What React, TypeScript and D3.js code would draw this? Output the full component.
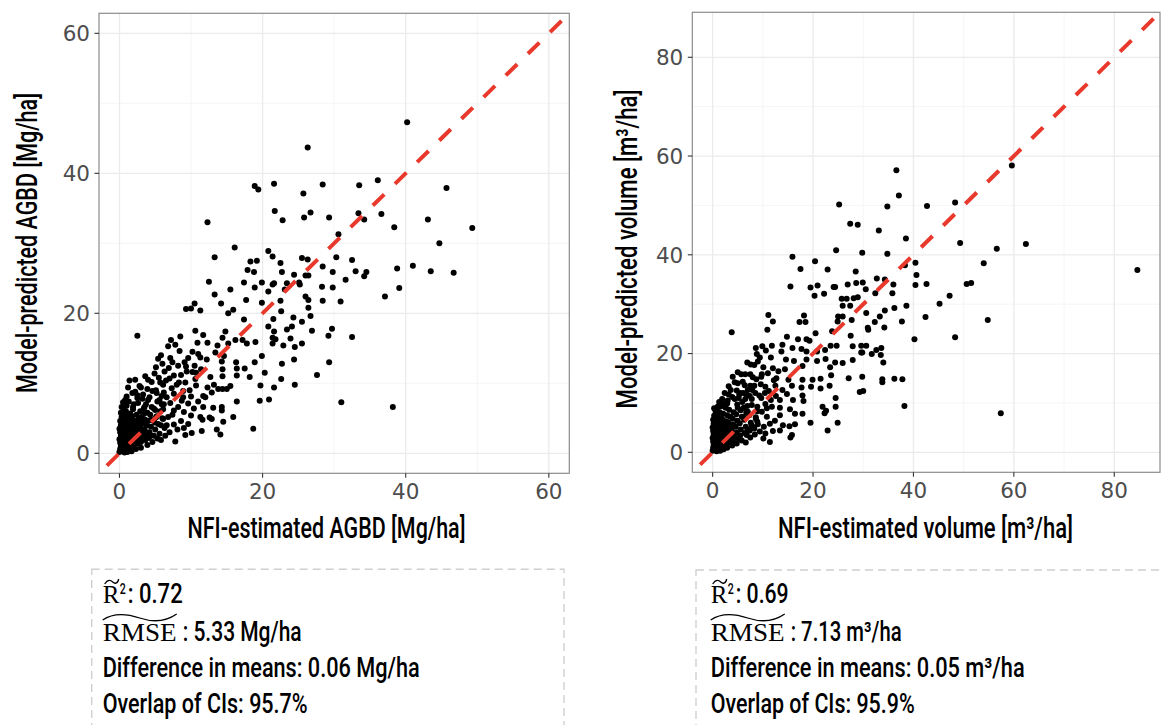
import React, { useLayoutEffect, useRef, useState } from "react";
import * as d3 from "d3";

// ---------- DATA ----------
// Left panel: NFI-estimated AGBD (x) vs model-predicted AGBD (y), Mg/ha
const agbdPoints: [number, number][] = [
  [40.2,47.3],[26.3,43.7],[36.1,39.0],[18.9,38.2],[19.4,37.7],[21.6,38.5],[28.4,38.4],[33.5,38.3],[45.7,37.9],[25.7,37.1],
  [21.7,34.6],[26.7,34.4],[33.4,34.3],[36.6,34.2],[25.8,33.7],[29.3,33.7],[22.8,33.3],[34.2,33.4],[43.1,33.4],[12.3,33.0],
  [49.3,32.2],[38.4,32.3],[30.6,31.3],[44.7,30.0],[16.1,29.4],[20.8,28.9],[13.3,28.0],[21.4,28.1],[25.5,27.9],[30.3,28.0],
  [32.5,27.6],[26.3,27.7],[18.3,27.4],[19.2,27.5],[22.5,27.2],[28.4,26.7],[41.0,26.8],[38.8,26.4],[17.9,26.2],[18.8,25.9],
  [22.7,25.9],[29.8,25.9],[33.0,26.0],[34.5,25.9],[43.5,26.0],[46.7,25.8],[24.4,25.5],[26.0,25.4],[26.4,25.4],[34.2,25.3],
  [31.6,24.8],[12.5,24.5],[17.4,24.4],[19.9,24.4],[21.6,24.3],[21.4,24.1],[23.4,24.3],[25.1,24.4],[25.2,24.1],[28.3,23.8],
  [29.8,23.7],[15.5,23.4],[18.9,23.7],[23.1,23.4],[39.1,23.6],[20.8,23.1],[13.3,22.7],[37.1,22.4],[26.0,22.4],[26.4,21.9],
  [17.7,21.9],[22.5,21.8],[28.4,21.8],[30.9,21.7],[14.2,21.4],[19.9,21.5],[10.5,21.4],[9.3,20.6],[10.0,20.7],[11.3,20.4],
  [15.9,20.5],[15.2,20.0],[26.4,20.8],[22.6,20.3],[26.7,19.6],[21.5,19.2],[24.3,19.4],[17.4,19.1],[25.5,18.8],[20.8,18.1],
  [21.6,17.4],[23.4,17.7],[24.1,18.1],[29.7,17.8],[26.9,17.5],[10.6,17.5],[14.8,17.4],[11.7,16.9],[2.5,16.8],[29.2,16.8],
  [32.5,16.6],[21.4,16.5],[21.8,16.3],[23.9,16.4],[14.4,16.5],[8.5,16.7],[16.2,16.2],[17.2,16.2],[19.0,15.9],[21.4,15.7],
  [17.8,15.7],[22.9,15.4],[24.5,15.2],[25.5,15.7],[7.2,16.2],[7.8,15.5],[10.9,15.8],[12.3,15.8],[13.7,15.4],[15.2,15.7],
  [6.8,15.3],[10.2,14.5],[5.8,14.0],[5.4,13.5],[7.1,13.6],[9.6,13.6],[11.3,13.7],[13.4,14.4],[14.6,13.9],[19.9,13.9],
  [24.4,13.4],[29.3,13.0],[14.3,13.1],[16.3,13.0],[18.9,13.0],[22.7,12.8],[5.1,12.3],[8.2,12.5],[9.3,12.4],[10.5,12.5],
  [14.4,12.0],[16.4,12.1],[17.5,12.1],[6.3,11.7],[7.6,11.1],[9.4,11.7],[10.7,11.5],[12.7,10.9],[14.4,11.0],[16.4,11.1],
  [18.2,10.9],[20.3,11.5],[27.6,11.2],[1.4,10.4],[2.2,10.5],[4.0,10.5],[5.7,10.1],[7.0,10.7],[8.3,10.1],[9.2,10.1],
  [10.7,9.7],[12.3,9.4],[13.8,9.2],[15.5,9.6],[19.7,9.7],[21.6,9.4],[22.6,10.6],[24.5,9.8],[3.0,9.4],[4.6,8.9],
  [6.2,8.7],[7.6,8.5],[8.9,8.9],[10.0,8.1],[11.7,8.2],[12.9,8.7],[14.4,9.2],[15.0,9.2],[19.6,7.5],[20.9,7.7],
  [31.0,7.3],[38.2,6.6],[1.0,8.1],[2.5,7.9],[4.0,7.6],[5.6,7.6],[7.1,7.2],[8.7,7.5],[9.6,7.1],[11.7,6.6],
  [13.1,6.5],[14.3,6.6],[16.4,7.4],[1.9,6.6],[3.5,6.6],[4.8,6.4],[6.1,6.3],[7.6,6.1],[9.0,5.9],[10.0,5.4],
  [11.3,5.2],[12.6,5.1],[14.3,6.1],[15.9,5.2],[14.5,4.5],[13.6,3.4],[14.1,2.7],[18.7,3.5],[7.8,1.7],[9.2,2.6],
  [10.1,2.9],[11.5,3.2],[11.6,4.8],[12.9,4.9],[6.1,4.9],[7.6,4.1],[6.3,3.6],[9.0,3.6],[5.3,2.1],[4.2,2.4],
  [3.5,3.4],[5.1,5.1],
];
const agbdCluster: [number, number][] = [
  [0.0,0.2],[0.1,0.6],[0.2,1.0],[0.1,1.5],[0.0,2.0],[0.2,2.5],[0.1,3.0],[0.0,3.5],[0.2,4.0],[0.1,4.6],[0.3,5.2],[0.2,5.8],
  [0.4,0.3],[0.5,0.9],[0.6,1.4],[0.4,1.9],[0.5,2.4],[0.6,2.9],[0.4,3.4],[0.6,3.9],[0.5,4.4],[0.7,5.0],[0.4,5.6],[0.6,6.2],
  [0.8,0.5],[0.9,1.1],[1.0,1.6],[0.8,2.1],[0.9,2.7],[1.0,3.2],[0.8,3.7],[1.0,4.2],[0.9,4.8],[1.1,5.4],[0.9,6.0],[1.0,6.8],
  [1.2,0.7],[1.3,1.3],[1.4,1.8],[1.2,2.3],[1.4,2.8],[1.3,3.4],[1.5,3.9],[1.2,4.5],[1.4,5.1],[1.5,5.7],[1.3,7.4],
  [1.6,0.9],[1.7,1.5],[1.8,2.0],[1.6,2.6],[1.8,3.1],[1.7,3.6],[1.9,4.2],[1.6,4.8],[1.8,5.3],[1.9,6.3],
  [2.0,1.1],[2.1,1.7],[2.2,2.3],[2.0,2.9],[2.3,3.4],[2.1,4.0],[2.2,4.6],[2.4,5.5],[2.0,7.0],
  [2.5,1.4],[2.6,2.0],[2.7,2.6],[2.5,3.2],[2.8,3.8],[2.6,4.4],[2.7,5.0],[2.9,6.0],[2.6,7.2],
  [3.0,1.6],[3.1,2.3],[3.2,2.9],[3.0,3.6],[3.3,4.3],[3.1,5.2],[3.4,6.4],[3.2,7.8],
  [3.6,1.9],[3.7,2.6],[3.5,3.3],[3.8,4.0],[3.6,4.8],[3.9,5.8],[3.7,7.0],
  [4.1,2.2],[4.2,3.0],[4.4,3.8],[4.0,4.6],[4.3,5.5],[4.5,6.6],[4.2,8.0],
  [4.8,2.5],[5.0,3.4],[4.9,4.4],[5.2,5.3],[5.0,6.2],[5.3,7.4],[5.1,9.0],
  [5.6,2.8],[5.8,4.0],[6.0,5.0],[5.7,6.0],[6.2,7.0],[5.9,8.2],[6.1,9.8],
];
const agbdExtra: [number, number][] = [
  [2.2,8.8],[2.8,9.6],[3.3,8.4],[3.9,9.2],[4.5,10.2],[3.6,11.0],[4.9,11.4],[5.5,10.8],[6.5,10.4],[6.9,12.2],
  [5.2,8.6],[5.9,7.0],[6.6,8.0],[7.3,9.3],[8.0,9.8],[8.6,11.2],[9.1,13.0],[8.4,14.6],[7.4,13.0],[6.0,12.8],
  [6.8,5.2],[7.4,5.5],[8.2,6.6],[8.9,8.0],[9.8,9.0],[10.6,10.6],[11.4,12.0],[12.2,13.4],[11.0,14.2],[10.2,11.6],
  [5.4,4.2],[6.6,4.0],[7.0,3.0],[8.1,3.4],[8.6,4.6],[9.6,4.2],[10.4,6.4],[11.0,7.4],[12.0,8.0],[13.2,9.8],
  [4.6,1.6],[5.8,1.9],[6.4,2.5],[3.9,1.2],[3.0,0.8],[2.3,0.6],[1.7,0.3],[4.4,4.8],[3.4,5.6],[2.9,4.6],
  [1.1,0.2],[0.7,0.1],[2.5,8.3],[1.8,8.6],[1.2,9.4],[0.5,7.3],[0.3,6.6],[0.8,7.6],
];

// Right panel: NFI-estimated volume (x) vs model-predicted volume (y), m3/ha
const volumePoints: [number, number][] = [
  [84.6,36.9],[59.6,58.1],[36.6,57.1],[37.1,52.0],[25.2,50.2],[34.8,49.8],[42.7,49.9],[48.3,50.6],[27.4,46.3],[28.9,46.1],
  [33.1,44.9],[38.5,43.3],[49.3,42.4],[62.4,42.2],[56.6,41.2],[24.6,40.9],[29.8,40.4],[34.8,40.2],[15.9,39.6],[20.4,38.7],
  [40.4,38.4],[54.0,38.3],[38.3,37.9],[17.5,37.1],[22.9,37.0],[28.5,36.6],[40.6,35.9],[32.7,35.2],[34.3,35.0],[28.6,34.3],
  [29.9,34.4],[36.0,34.0],[40.4,33.9],[42.6,34.1],[50.6,34.1],[51.5,34.3],[15.5,33.6],[19.5,33.4],[20.9,33.8],[24.1,33.5],
  [24.4,33.5],[26.9,34.0],[30.5,33.0],[32.4,32.2],[35.8,32.2],[20.3,31.7],[22.2,32.1],[25.7,31.1],[26.7,31.1],[28.1,31.2],
  [28.9,31.4],[47.2,31.7],[45.2,30.1],[38.6,29.7],[25.9,29.7],[27.4,29.7],[36.2,29.2],[34.3,28.7],[30.6,28.2],[33.3,27.5],
  [25.0,27.5],[25.9,27.5],[11.1,27.8],[18.2,27.7],[42.4,27.4],[12.0,26.5],[17.3,26.4],[18.5,26.4],[24.9,26.5],[27.7,26.8],
  [37.7,26.5],[54.8,26.8],[32.3,26.4],[30.9,25.2],[31.0,24.8],[34.2,25.3],[10.9,24.8],[3.8,24.3],[20.5,24.1],[23.8,24.5],
  [14.8,23.4],[27.5,23.6],[48.3,23.3],[40.2,22.9],[17.0,22.9],[18.7,22.9],[19.3,22.6],[23.5,21.6],[24.7,21.6],[27.9,21.5],
  [29.6,21.6],[30.6,21.6],[13.9,21.8],[15.9,21.1],[17.7,20.9],[8.6,21.1],[9.9,21.5],[13.7,20.4],[18.7,20.4],[20.8,20.4],
  [22.4,20.7],[29.6,20.2],[31.7,19.9],[32.6,20.7],[33.6,21.1],[33.5,19.7],[29.8,20.2],[27.9,18.7],[34.0,18.2],[8.8,19.9],
  [9.4,19.2],[11.6,19.2],[14.6,18.8],[16.2,18.5],[18.7,18.8],[20.8,18.5],[22.5,18.9],[24.4,18.2],[25.9,18.1],[6.9,18.2],
  [8.3,17.7],[10.1,17.2],[12.0,17.0],[14.4,16.8],[17.9,17.5],[23.4,17.2],[5.7,15.8],[7.5,15.8],[9.7,15.3],[12.7,15.0],
  [15.1,14.7],[17.9,14.7],[19.9,14.7],[21.5,14.9],[23.6,15.6],[27.1,15.0],[29.8,15.3],[33.8,14.8],[36.2,14.9],[37.8,14.8],
  [33.8,14.2],[23.3,13.5],[4.4,14.2],[6.4,13.6],[8.3,13.5],[10.5,13.3],[12.5,13.5],[15.8,13.5],[17.7,13.1],[19.6,13.3],
  [21.5,12.9],[29.3,12.2],[30.0,12.4],[3.2,11.7],[5.3,11.7],[7.4,11.4],[9.7,11.0],[11.6,10.6],[13.4,10.6],[16.0,10.6],
  [18.1,10.4],[24.5,11.0],[17.9,11.5],[2.9,9.9],[4.9,9.7],[6.9,9.4],[8.9,9.2],[10.8,8.9],[13.4,9.0],[15.4,8.7],
  [21.9,9.2],[24.5,9.2],[38.2,9.4],[57.4,7.9],[22.3,7.9],[22.6,8.4],[17.9,7.8],[16.4,7.8],[13.4,7.5],[10.8,7.2],
  [8.6,7.1],[6.1,7.1],[19.5,6.0],[24.9,6.0],[16.4,5.7],[14.0,5.5],[15.3,5.3],[22.9,4.4],[13.4,4.4],[12.0,4.3],
  [15.8,3.5],[15.5,3.0],[10.1,2.8],[11.4,2.1],[10.5,3.8],[8.3,4.8],[6.8,3.5],[5.3,2.8],[3.8,2.0],[9.0,5.7],
];
const volumeCluster: [number, number][] = [
  [0.0,0.3],[0.1,0.9],[0.2,1.5],[0.1,2.2],[0.0,2.9],[0.2,3.6],[0.1,4.3],[0.0,5.0],[0.2,5.8],[0.1,6.6],
  [0.5,0.5],[0.6,1.2],[0.4,1.9],[0.6,2.6],[0.5,3.3],[0.7,4.0],[0.5,4.8],[0.6,5.6],[0.4,6.4],[0.7,7.3],
  [1.0,0.7],[1.1,1.5],[0.9,2.3],[1.2,3.0],[1.0,3.8],[1.1,4.6],[0.9,5.4],[1.2,6.2],[1.0,7.1],[1.1,8.2],
  [1.5,1.0],[1.6,1.8],[1.4,2.6],[1.7,3.4],[1.5,4.2],[1.6,5.1],[1.4,6.0],[1.7,6.9],[1.5,8.0],[1.6,9.3],
  [2.0,1.3],[2.1,2.1],[1.9,2.9],[2.2,3.8],[2.0,4.7],[2.2,5.6],[2.0,6.6],[2.1,7.8],[1.9,10.8],
  [2.6,1.6],[2.7,2.5],[2.5,3.4],[2.8,4.3],[2.6,5.3],[2.7,6.3],[2.9,7.5],[2.6,9.0],
  [3.2,2.0],[3.3,2.9],[3.1,3.9],[3.4,4.9],[3.2,6.0],[3.5,7.2],[3.3,8.6],
  [3.9,2.4],[4.0,3.4],[3.8,4.5],[4.1,5.6],[4.0,6.8],[4.2,8.1],[3.9,11.2],
  [4.6,2.9],[4.8,4.0],[4.6,5.2],[4.9,6.4],[4.7,7.7],[5.0,9.0],[4.8,12.5],
  [5.5,3.4],[5.6,4.6],[5.4,5.9],[5.8,7.2],[5.6,8.5],[5.9,10.2],[5.5,12.0],
  [6.4,3.9],[6.6,5.2],[6.3,6.6],[6.7,8.0],[6.5,10.8],[7.0,12.6],
  [7.4,4.4],[7.6,6.0],[7.3,7.5],[7.8,9.6],[8.2,5.0],[8.6,6.8],[8.9,8.3],[9.3,11.5],[7.5,13.5],[6.0,14.3],[8.0,15.2],[5.0,14.0],
];
const volumeExtra: [number, number][] = [
  [2.3,9.9],[3.0,10.5],[3.6,12.6],[4.4,10.8],[5.2,11.0],[6.1,12.0],[6.8,11.6],[7.9,12.6],[8.7,14.8],[9.8,15.8],
  [6.2,9.0],[7.0,8.2],[7.8,10.8],[8.5,12.0],[9.6,13.8],[10.4,12.0],[11.2,12.4],[12.2,14.6],[13.1,16.4],[11.0,16.0],
  [7.0,4.6],[7.8,5.4],[8.9,6.2],[9.8,8.2],[10.5,9.8],[11.8,9.2],[12.6,11.4],[13.9,12.6],[14.8,11.8],[12.4,6.4],
  [5.8,2.4],[6.6,2.0],[7.5,3.0],[8.4,3.6],[9.4,4.2],[10.2,5.2],[11.4,5.8],[4.8,1.8],[3.9,1.4],[2.9,0.9],
  [2.2,0.6],[1.5,0.3],[0.8,0.2],[0.3,7.4],[0.6,8.3],[1.0,9.2],[0.3,8.9],[1.3,10.2],[2.4,12.0],[3.2,13.4],
  [4.0,15.3],[5.0,16.2],[6.5,15.8],[7.6,17.8],[9.0,18.4],[10.6,20.6],[11.8,21.6],
];

const agbdMajorTicks = [0, 20, 40, 60];
const agbdMinorTicks = [10, 30, 50];
const volumeMajorTicks = [0, 20, 40, 60, 80];
const volumeMinorTicks = [10, 30, 50, 70];

const agbdStats = { r2: ": 0.72", rmse: ": 5.33 Mg/ha", diff: "Difference in means: 0.06 Mg/ha", overlap: "Overlap of CIs: 95.7%" };
const volumeStats = { r2: ": 0.69", rmse: ": 7.13 m³/ha", diff: "Difference in means: 0.05 m³/ha", overlap: "Overlap of CIs: 95.9%" };

// ---------- STYLE ----------
const COND = "Roboto, 'Noto Sans', sans-serif";
const TICKFONT = "'DejaVu Sans', sans-serif";
const SERIF = "'Liberation Serif', 'DejaVu Serif', serif";
const RED = "#E8392C";

// Text horizontally condensed to a target width (measured, then scaled)
function CondText(props: {
  x: number;
  y: number;
  width: number;
  anchor?: "start" | "middle" | "end";
  rotate?: number;
  size: number;
  family?: string;
  weight?: number;
  children: React.ReactNode;
}) {
  const ref = useRef<SVGTextElement>(null);
  const [sx, setSx] = useState(0.72);
  useLayoutEffect(() => {
    const el = ref.current;
    if (el) {
      const L = el.getComputedTextLength();
      if (L > 0) setSx(props.width / L);
    }
  }, [props.width, props.size]);
  return (
    <text
      ref={ref}
      transform={`translate(${props.x},${props.y}) rotate(${props.rotate || 0}) scale(${sx},1)`}
      textAnchor={props.anchor || "start"}
      fontFamily={props.family || COND}
      fontWeight={props.weight ?? 500}
      fontSize={props.size}
      fill="#000"
    >
      {props.children}
    </text>
  );
}

type PanelProps = {
  id: string;
  points: [number, number][];
  box: { left: number; right: number; top: number; bottom: number };
  domain: [number, number];
  major: number[];
  minor: number[];
  xTitle: string;
  yTitle: string;
  xTitleX: number;
  xTitleLen: number;
  yTitleY: number;
  yTitleLen: number;
  yTitleX: number;
};

function Panel(p: PanelProps) {
  const { box } = p;
  const x = d3.scaleLinear().domain(p.domain).range([box.left, box.right]);
  const y = d3.scaleLinear().domain(p.domain).range([box.bottom, box.top]);
  const lineGen = d3.line<number>().x((d) => x(d)).y((d) => y(d));
  return (
    <g>
      <defs>
        <clipPath id={p.id}>
          <rect x={box.left} y={box.top} width={box.right - box.left} height={box.bottom - box.top} />
        </clipPath>
      </defs>
      {p.minor.map((t) => (
        <g key={"mn" + t}>
          <line x1={x(t)} x2={x(t)} y1={box.top} y2={box.bottom} stroke="#F2F2F2" strokeWidth={0.8} />
          <line x1={box.left} x2={box.right} y1={y(t)} y2={y(t)} stroke="#F2F2F2" strokeWidth={0.8} />
        </g>
      ))}
      {p.major.map((t) => (
        <g key={"mj" + t}>
          <line x1={x(t)} x2={x(t)} y1={box.top} y2={box.bottom} stroke="#EBEBEB" strokeWidth={1.3} />
          <line x1={box.left} x2={box.right} y1={y(t)} y2={y(t)} stroke="#EBEBEB" strokeWidth={1.3} />
        </g>
      ))}
      <g clipPath={`url(#${p.id})`}>
        {p.points.map((d, i) => (
          <circle key={i} cx={x(d[0])} cy={y(d[1])} r={3} fill="#000" />
        ))}
        <path
          d={lineGen([p.domain[0], p.domain[1]]) || ""}
          stroke={RED}
          strokeWidth={4}
          fill="none"
          strokeDasharray="16 15"
          strokeDashoffset={20}
        />
      </g>
      <rect x={box.left} y={box.top} width={box.right - box.left} height={box.bottom - box.top} fill="none" stroke="#8C8C8C" strokeWidth={1.2} />
      {p.major.map((t) => (
        <g key={"tk" + t}>
          <line x1={x(t)} x2={x(t)} y1={box.bottom} y2={box.bottom + 4.5} stroke="#333" strokeWidth={1.1} />
          <line x1={box.left - 4.5} x2={box.left} y1={y(t)} y2={y(t)} stroke="#333" strokeWidth={1.1} />
          <text x={x(t)} y={box.bottom + 25.5} textAnchor="middle" fontFamily={TICKFONT} fontSize={21.5} fill="#4D4D4D">
            {t}
          </text>
          <text x={box.left - 9} y={y(t) + 7.8} textAnchor="end" fontFamily={TICKFONT} fontSize={21.5} fill="#4D4D4D">
            {t}
          </text>
        </g>
      ))}
      <CondText x={p.xTitleX} y={538} anchor="middle" size={29} width={p.xTitleLen}>
        {p.xTitle}
      </CondText>
      <CondText x={p.yTitleX} y={p.yTitleY} anchor="middle" rotate={-90} size={29} width={p.yTitleLen}>
        {p.yTitle}
      </CondText>
    </g>
  );
}

type StatsProps = {
  boxLeft: number;
  boxRight: number;
  boxTop: number;
  x0: number;
  stats: { r2: string; rmse: string; diff: string; overlap: string };
  r2Len: number;
  rmseLen: number;
  diffLen: number;
  overlapLen: number;
};

function StatsBox(s: StatsProps) {
  const x0 = s.x0;
  const b1 = 603;
  const b2 = 641;
  const b3 = 676.5;
  const b4 = 713;
  return (
    <g>
      <rect x={s.boxLeft} y={s.boxTop} width={s.boxRight - s.boxLeft} height={200} fill="none" stroke="#D0D0D0" strokeWidth={1.4} strokeDasharray="8 5" />
      {/* R tilde squared */}
      <text x={x0} y={b1} fontFamily={SERIF} fontSize={25} fill="#000">R</text>
      <path d={`M${x0 + 2},${b1 - 19} C${x0 + 5},${b1 - 24} ${x0 + 8},${b1 - 23} ${x0 + 10},${b1 - 21} C${x0 + 12},${b1 - 19} ${x0 + 15},${b1 - 19} ${x0 + 16},${b1 - 24}`} fill="none" stroke="#000" strokeWidth={1.3} />
      <CondText x={x0 + 17} y={b1 - 9} size={15} width={6}>2</CondText>
      <CondText x={x0 + 25} y={b1} size={27} width={s.r2Len}>{s.stats.r2}</CondText>
      {/* RMSE with wide tilde */}
      <CondText x={x0} y={b2} size={25} family={SERIF} weight={400} width={74}>RMSE</CondText>
      <path d={`M${x0},${b2 - 21} C${x0 + 10},${b2 - 28} ${x0 + 22},${b2 - 28} ${x0 + 37},${b2 - 23} C${x0 + 52},${b2 - 18} ${x0 + 64},${b2 - 20} ${x0 + 74},${b2 - 27}`} fill="none" stroke="#000" strokeWidth={1.3} />
      <CondText x={x0 + 80} y={b2} size={27} width={s.rmseLen}>{s.stats.rmse}</CondText>
      <CondText x={x0} y={b3} size={27} width={s.diffLen}>{s.stats.diff}</CondText>
      <CondText x={x0} y={b4} size={27} width={s.overlapLen}>{s.stats.overlap}</CondText>
    </g>
  );
}

export default function App() {
  return (
    <div style={{ position: "absolute", left: 0, top: 0 }}>
      <svg width={1164} height={725} style={{ display: "block", background: "#fff" }}>
        <Panel
          id="clipA"
          points={[...agbdCluster, ...agbdExtra, ...agbdPoints]}
          box={{ left: 99, right: 569.3, top: 13.3, bottom: 473.3 }}
          domain={[-2.86, 62.86]}
          major={agbdMajorTicks}
          minor={agbdMinorTicks}
          xTitle="NFI-estimated AGBD [Mg/ha]"
          yTitle="Model-predicted AGBD [Mg/ha]"
          xTitleX={326.5}
          xTitleLen={278}
          yTitleX={37}
          yTitleY={243}
          yTitleLen={300}
        />
        <Panel
          id="clipB"
          points={[...volumeCluster, ...volumeExtra, ...volumePoints]}
          box={{ left: 692.3, right: 1160, top: 12.3, bottom: 472.3 }}
          domain={[-4.05, 89.11]}
          major={volumeMajorTicks}
          minor={volumeMinorTicks}
          xTitle="NFI-estimated volume [m³/ha]"
          yTitle="Model-predicted volume [m³/ha]"
          xTitleX={925.5}
          xTitleLen={295}
          yTitleX={637}
          yTitleY={249}
          yTitleLen={319}
        />
        <StatsBox boxLeft={91.7} boxRight={564} boxTop={569.3} x0={102.7} stats={agbdStats} r2Len={55} rmseLen={119} diffLen={317} overlapLen={205} />
        <StatsBox boxLeft={696} boxRight={1175} boxTop={570} x0={710.7} stats={volumeStats} r2Len={53} rmseLen={111} diffLen={314} overlapLen={204} />
      </svg>
    </div>
  );
}
